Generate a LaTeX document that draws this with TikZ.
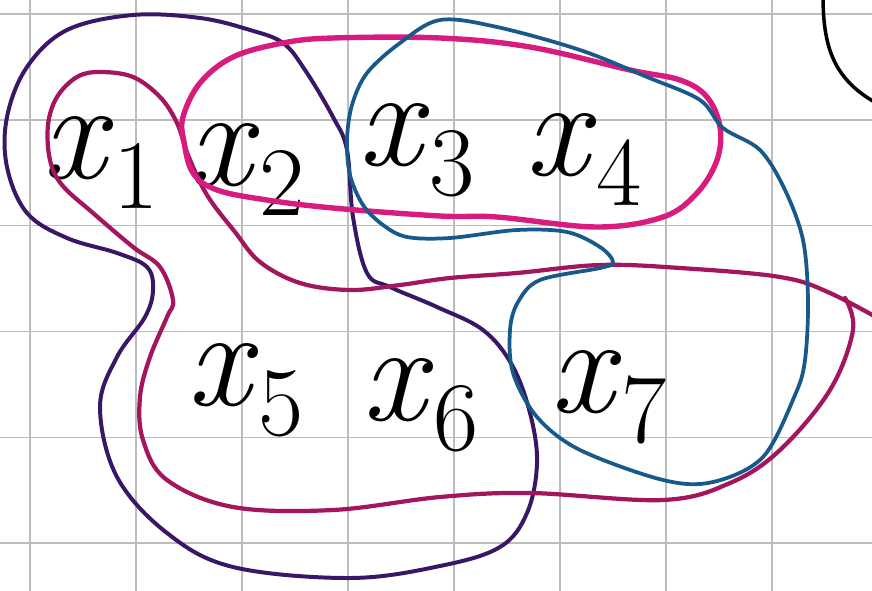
\documentclass[tikz,border=0pt]{standalone}
\usepackage{fontspec}
\usetikzlibrary{positioning}
\definecolor{morado}{HTML}{3A1766}
\definecolor{granate}{HTML}{A3155C}
\definecolor{rosa}{HTML}{D81B7F}
\definecolor{azulu}{HTML}{17598A}
\definecolor{cuadricula}{HTML}{BDBDBD}
\newcommand{\vtx}[1]{\textit{x}\raisebox{-0.22em}{\fontsize{84}{84}\selectfont #1}}
\tikzset{
  etiqueta/.style={anchor=base west, inner sep=0pt, font=\fontsize{120}{120}\selectfont},
  linea/.style={line width=1.2pt, color=cuadricula},
  borde/.style={line width=#1, line cap=round, line join=round},
  borde/.default=2.5pt
}
\begin{document}
\begin{tikzpicture}[x=0.03cm, y=-0.03cm]
  \useasboundingbox (0,0) rectangle (872,591);
  \clip (0,0) rectangle (872,591);
  % cuadricula
  \foreach \i in {0,...,7}
    \draw [linea] ({30+106*\i},0) -- ({30+106*\i},591);
  \foreach \j in {0,...,5}
    \draw [linea] (0,{14+105.8*\j}) -- (872,{14+105.8*\j});
  % vertices
  \node (x1) [etiqueta] at (42,178) {\vtx{1}};
  \node (x2) [etiqueta] at (188,185) {\vtx{2}};
  \node (x3) [etiqueta] at (358,165) {\vtx{3}};
  \node (x4) [etiqueta] at (525,175) {\vtx{4}};
  \node (x5) [etiqueta] at (187,405) {\vtx{5}};
  \node (x6) [etiqueta] at (362,420) {\vtx{6}};
  \node (x7) [etiqueta] at (550,412) {\vtx{7}};
  % aristas
  \draw [morado, borde=3.4pt] plot [smooth cycle, tension=0.6] coordinates {
    (283,43) (305,70) (333,117) (347,150) (353,217) (367,273) (390,287)
    (437,307) (483,330) (512,365) (530,413) (537,463) (527,513) (500,547)
    (440,566) (350,578) (233,567) (167,533) (117,477) (100,407) (117,357)
    (145,317) (153,290) (147,267) (117,253) (67,238) (27,213) (7,167)
    (7,117) (27,67) (67,30) (133,15) (200,18) (250,30)};
  \draw [granate, borde=3.6pt] plot [smooth, tension=0.6] coordinates {
    (890,325) (830,293) (780,277) (680,268) (600,265) (517,273) (450,278)
    (400,285) (350,290) (300,283) (260,262) (235,232) (207,195) (188,155)
    (177,123) (160,97) (133,77) (100,72) (77,77) (57,97) (48,125)
    (50,160) (62,185) (93,213) (133,247) (160,267) (173,300) (167,317)
    (150,357) (140,397) (143,440) (167,480) (233,507) (333,510) (440,497)
    (530,493) (663,500) (730,483) (780,450) (830,390) (853,330) (845,298)};
  \draw [rosa, borde=4.6pt] plot [smooth cycle, tension=0.6] coordinates {
    (183,117) (200,83) (233,57) (283,43) (333,38) (440,38) (530,47)
    (630,70) (680,80) (707,97) (720,127) (717,160) (697,193) (663,217)
    (597,227) (497,217) (440,216) (333,208) (267,200) (217,190) (193,173)
    (184,142)};
  \draw [azulu, borde=3.2pt] plot [smooth cycle, tension=0.55] coordinates {
    (440,20) (497,27) (580,50) (647,77) (700,100) (723,128) (760,150)
    (785,190) (803,240) (808,300) (805,360) (795,395) (763,457) (713,482)
    (663,480) (580,450) (537,417) (513,373) (510,330) (518,302) (540,280)
    (600,268) (613,262) (600,247) (567,232) (517,230) (450,238) (407,237)
    (383,225) (363,205) (350,175) (347,140) (352,105) (367,73) (400,43)};
  % arco
  \draw [borde=3pt] (823,-5) .. controls (823,45) and (832,80) .. (880,105);
\end{tikzpicture}
\end{document}
